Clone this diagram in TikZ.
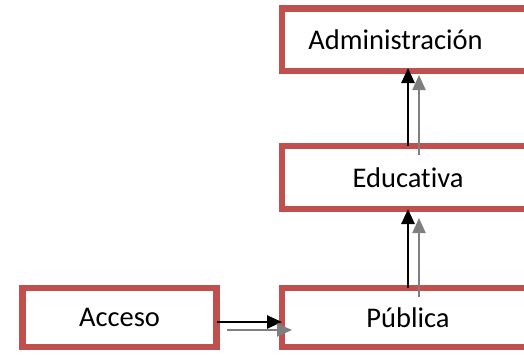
\documentclass[tikz,border=0pt]{standalone}
\usepackage{fontspec}
\setmainfont[Ligatures=NoCommon]{Carlito}
\usetikzlibrary{arrows.meta}
\definecolor{boxred}{HTML}{C0504D}
\definecolor{shadowgray}{HTML}{7F7F7F}
\begin{document}
\begin{tikzpicture}[x=1pt,y=-1pt]
\path[use as bounding box,clip] (0,0) rectangle (524,354);
\tikzstyle{every node}=[draw=boxred,line width=6.5pt,shape=rectangle,fill=white,
  inner sep=0pt,outer sep=0pt,font=\fontsize{28.5}{34}\selectfont];
\tikzstyle{fwd}=[line width=2.6pt,-{Triangle[length=15pt,width=13pt]}];
\tikzstyle{back}=[fwd,line width=2pt,draw=shadowgray,-{Triangle[length=15pt,width=13pt,fill=shadowgray]}];
\node (acc)[minimum width=194pt,minimum height=59pt] at (119.5,317.5) {Acceso};
\node (pub)[minimum width=252pt,minimum height=59pt] at (408,317.5) {Pública};
\node (edu)[minimum width=252pt,minimum height=63pt] at (408,177.5) {Educativa};
\node (adm)[minimum width=252pt,minimum height=62.5pt] at (408,39.75) {\hspace*{-25pt}Administración};
\draw[fwd] ([yshift=-4.5pt]acc.east) -- ([yshift=-4.5pt]pub.west);
\draw[back] ([xshift=10pt,yshift=-12.5pt]acc.east) -- ([xshift=10pt,yshift=-12.5pt]pub.west);
\draw[fwd] (pub.north) -- (edu.south);
\draw[back] ([xshift=11pt,yshift=-9pt]pub.north) -- ([xshift=11pt,yshift=-9pt]edu.south);
\draw[fwd] (edu.north) -- ([yshift=3pt]adm.south);
\draw[back] ([xshift=11pt,yshift=-9pt]edu.north) -- ([xshift=11pt,yshift=-4pt]adm.south);
\end{tikzpicture}
\end{document}
